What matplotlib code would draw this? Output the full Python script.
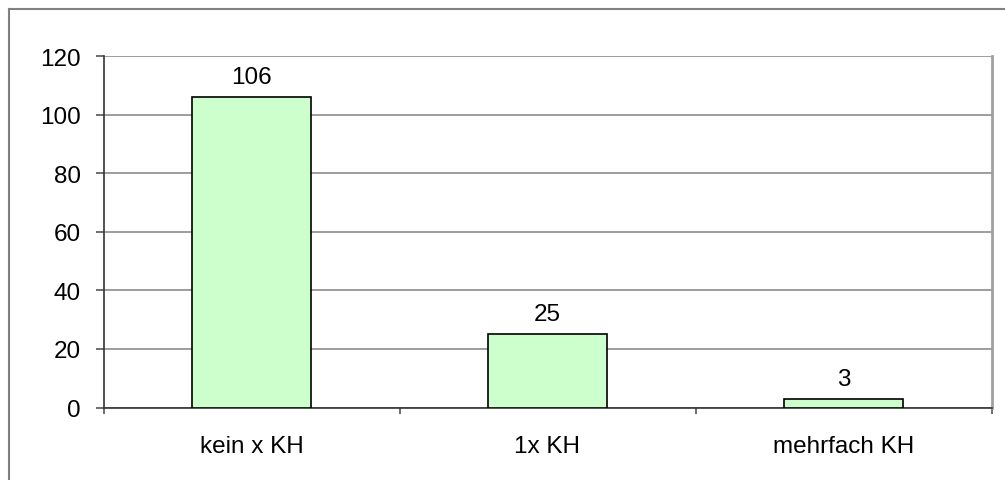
import matplotlib
matplotlib.use("Agg")
import matplotlib.pyplot as plt
from matplotlib.lines import Line2D

plt.rcParams['font.family'] = ['Liberation Sans', 'DejaVu Sans']

categories = ["kein x KH", "1x KH", "mehrfach KH"]
values = [106, 25, 3]
y_ticks = [0, 20, 40, 60, 80, 100, 120]

W, H = 1005, 481
fig = plt.figure(figsize=(W / 100, H / 100), dpi=100)
FS = 17.5

# plot area in pixel coordinates
left, right, top, bottom = 103.5, 991.5, 57, 408.5
ax = fig.add_axes([left / W, 1 - bottom / H, (right - left) / W, (bottom - top) / H])

x = list(range(len(categories)))
ax.bar(x, values, width=0.405, color="#ccffcc", edgecolor="black", linewidth=1.2, zorder=3)

ax.set_xlim(-0.5, len(categories) - 0.5)
ax.set_ylim(0, 120)
ax.set_yticks(y_ticks)
ax.set_yticklabels([str(t) for t in y_ticks], fontsize=FS)
ax.yaxis.grid(True, color="#8c8c8c", linewidth=1.2, zorder=0)

# category labels centred, ticks at category boundaries
ax.set_xticks(x)
ax.set_xticklabels(categories, fontsize=FS)
ax.tick_params(axis="x", length=0, pad=20)
ax.set_xticks([i - 0.5 for i in range(len(categories) + 1)], minor=True)
ax.tick_params(axis="x", which="minor", length=4.5, width=1.2, color="#555555", direction="out")
ax.tick_params(axis="y", length=5.8, width=1.2, color="#555555", direction="out", pad=10.5)

ax.spines["top"].set_visible(False)
ax.spines["right"].set_color("#a0a0a0")
ax.spines["right"].set_linewidth(2)
ax.spines["left"].set_color("#333333")
ax.spines["bottom"].set_color("#333333")
ax.spines["left"].set_linewidth(1.2)
ax.spines["bottom"].set_linewidth(1.2)

for xi, v in zip(x, values):
    ax.annotate(str(v), (xi, v), xytext=(0, 6.5), textcoords="offset points",
                ha="center", va="bottom", fontsize=FS)

# outer chart frame (left and top edges)
fig.add_artist(Line2D([8.5 / W, 8.5 / W], [0, 1 - 9.5 / H], transform=fig.transFigure,
                      color="#808080", linewidth=1.5))
fig.add_artist(Line2D([8.5 / W, 1], [1 - 9.5 / H, 1 - 9.5 / H], transform=fig.transFigure,
                      color="#808080", linewidth=1.5))

fig.savefig("out.png", dpi=100)
